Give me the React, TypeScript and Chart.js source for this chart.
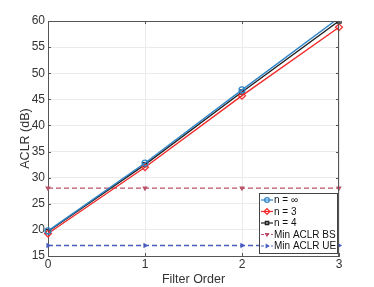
import React, { useEffect, useRef } from 'react';
import { Chart, registerables } from 'chart.js';
import { drawPoint } from 'chart.js/helpers';

Chart.register(...registerables);

const filterOrder = [0, 1, 2, 3];
const nInf = [19.8, 32.8, 46.8, 60.6];
const n3 = [19.3, 32.0, 45.7, 58.8];
const n4 = [19.7, 32.5, 46.4, 60.0];
const minBS = [28, 28, 28, 28];
const minUE = [17, 17, 17, 17];
const seriesNames = ['n = \u221e', 'n = 3', 'n = 4', 'Min ACLR BS', 'Min ACLR UE'];
const xTitle = 'Filter Order';
const yTitle = 'ACLR (dB)';

const FONT = '"Liberation Sans", Arial, sans-serif';
const AXIS = '#555555';
const TXT = '#333333';

type Sty = { color: string; style: any; rot: number; radius: number; dash: number[]; fill: string };
const styles: Sty[] = [
  { color: '#2f86c9', style: 'circle', rot: 0, radius: 3, dash: [], fill: 'rgba(0,0,0,0)' },
  { color: '#f22a2a', style: 'rectRot', rot: 0, radius: 3.5, dash: [], fill: 'rgba(0,0,0,0)' },
  { color: '#222222', style: 'rect', rot: 0, radius: 3, dash: [], fill: 'rgba(0,0,0,0)' },
  { color: '#bb5068', style: 'triangle', rot: 180, radius: 2, dash: [5, 3], fill: '#bb5068' },
  { color: '#4a5cc0', style: 'triangle', rot: 90, radius: 2, dash: [5, 3], fill: '#4a5cc0' },
];

const boxPlugin = {
  id: 'boxPlugin',
  afterDraw(chart: any) {
    const { ctx, chartArea: a, scales } = chart;
    ctx.save();
    ctx.strokeStyle = AXIS;
    ctx.lineWidth = 1;
    ctx.beginPath();
    ctx.moveTo(a.left, a.top + 0.5);
    ctx.lineTo(a.right, a.top + 0.5);
    ctx.moveTo(a.right - 0.5, a.top);
    ctx.lineTo(a.right - 0.5, a.bottom);
    ctx.stroke();
    // inner ticks
    const ys = scales.y;
    const xs = scales.x;
    ctx.beginPath();
    ys.ticks.forEach((t: any) => {
      const y = Math.round(ys.getPixelForValue(t.value)) + 0.5;
      ctx.moveTo(a.left, y); ctx.lineTo(a.left + 3, y);
      ctx.moveTo(a.right, y); ctx.lineTo(a.right - 3, y);
    });
    xs.ticks.forEach((t: any) => {
      const x = Math.round(xs.getPixelForValue(t.value)) + 0.5;
      ctx.moveTo(x, a.bottom); ctx.lineTo(x, a.bottom - 3);
      ctx.moveTo(x, a.top); ctx.lineTo(x, a.top + 3);
    });
    ctx.stroke();

    // legend
    const bx = 259, by = 193, bw = 78, bh = 60;
    ctx.fillStyle = '#ffffff';
    ctx.fillRect(bx, by, bw, bh);
    ctx.strokeStyle = '#444444';
    ctx.strokeRect(bx + 0.5, by + 0.5, bw, bh);
    ctx.font = '10px ' + FONT;
    ctx.textBaseline = 'middle';
    ctx.textAlign = 'left';
    seriesNames.forEach((name, i) => {
      const s = styles[i];
      const y = by + 7 + i * 11.5;
      ctx.strokeStyle = s.color;
      ctx.lineWidth = 1.2;
      ctx.setLineDash(s.dash.length ? [3, 2] : []);
      ctx.beginPath();
      ctx.moveTo(bx + 2, y);
      ctx.lineTo(bx + 14, y);
      ctx.stroke();
      ctx.setLineDash([]);
      ctx.fillStyle = s.fill;
      drawPoint(ctx, { pointStyle: s.style, rotation: s.rot, radius: s.radius * 0.8, borderWidth: 1 }, bx + 8, y);
      ctx.fillStyle = '#111111';
      ctx.fillText(name, bx + 15, y + 0.5);
    });
    ctx.restore();
  },
};

export default function App() {
  const ref = useRef<HTMLCanvasElement>(null);
  useEffect(() => {
    const series = [nInf, n3, n4, minBS, minUE];
    const chart = new Chart(ref.current!, {
      type: 'line',
      data: {
        datasets: series.map((vals, i) => ({
          label: seriesNames[i],
          data: filterOrder.map((x, j) => ({ x, y: vals[j] })),
          borderColor: styles[i].color,
          backgroundColor: styles[i].fill,
          borderWidth: 1.4,
          borderDash: styles[i].dash,
          pointStyle: styles[i].style,
          pointRotation: styles[i].rot,
          pointRadius: styles[i].radius,
          pointBorderWidth: 1.2,
          pointBorderColor: styles[i].color,
          pointBackgroundColor: styles[i].fill,
          tension: 0,
          clip: { left: 6, right: 6, top: 0, bottom: 6 },
        })),
      },
      options: {
        animation: false,
        responsive: false,
        maintainAspectRatio: false,
        layout: { padding: { left: 0, top: 21, right: 35, bottom: 0 } },
        plugins: { legend: { display: false }, tooltip: { enabled: false } },
        scales: {
          x: {
            type: 'linear',
            min: 0,
            max: 3,
            afterFit: (s: any) => { s.height = 31; },
            ticks: { stepSize: 1, color: TXT, font: { family: FONT, size: 12 }, padding: 1 },
            grid: { color: '#ebebeb', drawTicks: false },
            border: { color: AXIS },
            title: { display: true, text: xTitle, color: TXT, font: { family: FONT, size: 12.5 }, padding: { top: 0, bottom: 0 } },
          },
          y: {
            type: 'linear',
            min: 15,
            max: 60,
            afterFit: (s: any) => { s.width = 48; },
            ticks: { stepSize: 5, color: TXT, font: { family: FONT, size: 12 }, padding: 3 },
            grid: { color: '#ebebeb', drawTicks: false },
            border: { color: AXIS },
            title: { display: true, text: yTitle, color: TXT, font: { family: FONT, size: 12.5 }, padding: { top: 18, bottom: 0 } },
          },
        },
      },
      plugins: [boxPlugin],
    });
    return () => chart.destroy();
  }, []);
  return (
    <div style={{ position: 'absolute', left: 0, top: 0, width: 374, height: 287, background: '#fff' }}>
      <canvas ref={ref} width={374} height={287} style={{ width: 374, height: 287 }} />
    </div>
  );
}
